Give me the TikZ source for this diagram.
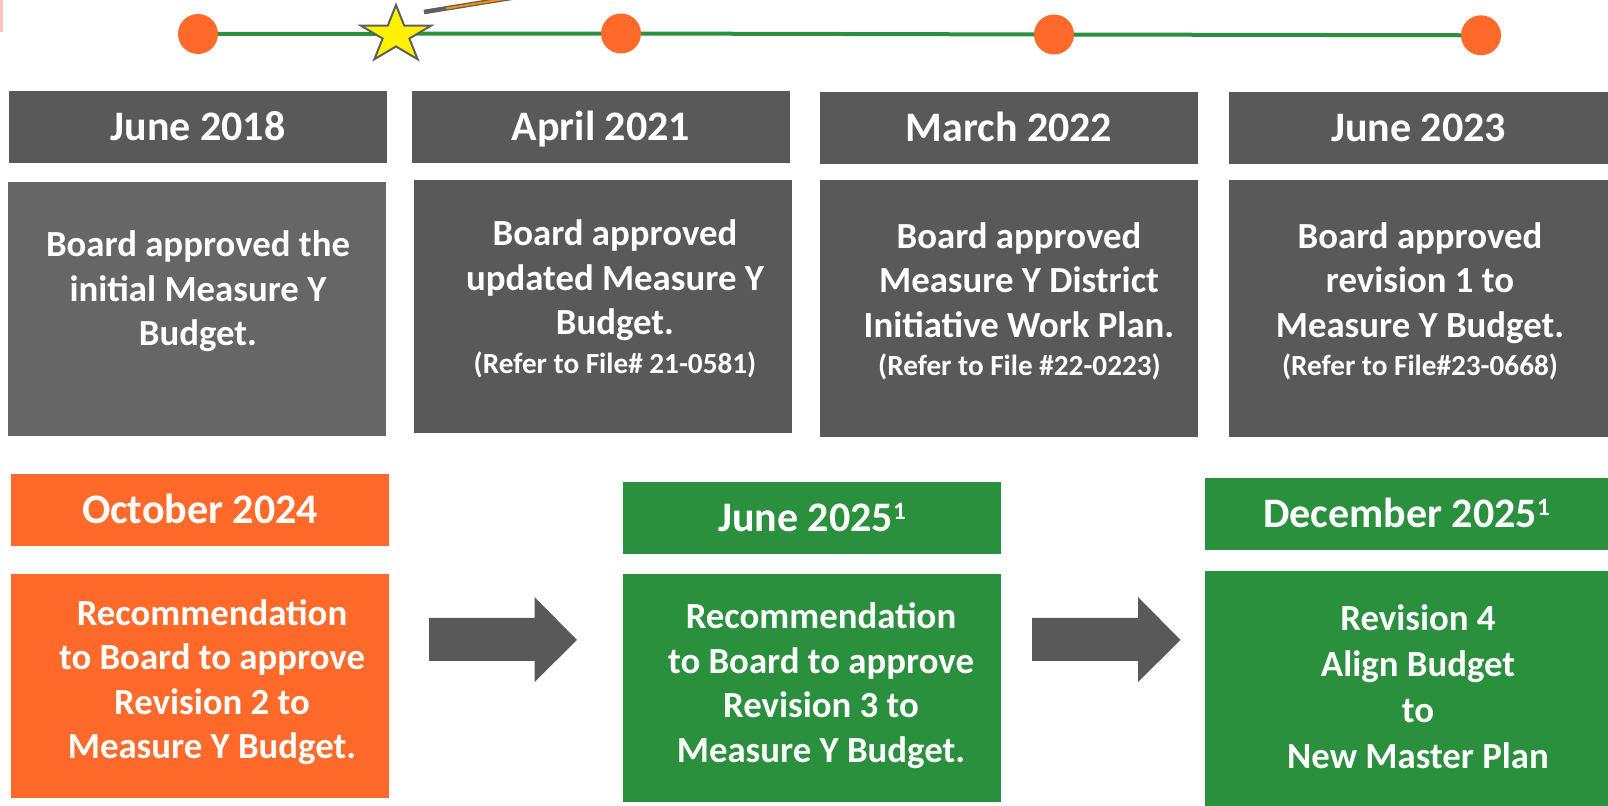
\documentclass[tikz,border=0pt]{standalone}
\usepackage{fontspec}
\newfontfamily\carl{Carlito}
\newcommand\hdrfont{\carl\bfseries\fontsize{21}{24}\selectfont}
\newcommand\bodyfont{\carl\bfseries\fontsize{18.4}{22.2}\selectfont}
\newcommand\smfont{\carl\bfseries\fontsize{14.6}{16}\selectfont}
\newcommand\supone{\raisebox{6pt}{\carl\bfseries\fontsize{12.5}{12.5}\selectfont 1}}
\definecolor{boxgray}{HTML}{595959}
\definecolor{boxgraylt}{HTML}{666666}
\definecolor{orng}{HTML}{FF6A2B}
\definecolor{grn}{HTML}{2A903D}
\definecolor{stargray}{HTML}{5F5F5F}
\definecolor{arrowgray}{HTML}{595959}
\tikzset{
  hdr/.style={rectangle, inner sep=0pt, outer sep=0pt, minimum width=189pt, minimum height=36pt,
    text=white, font=\hdrfont, text height=13.5pt, text depth=0pt},
  bodybox/.style={rectangle, inner sep=0pt, outer sep=0pt, minimum width=189pt},
  bt/.style={text=white, align=center, inner sep=0pt, outer sep=0pt, anchor=north, font=\bodyfont},
  st/.style={text=white, inner sep=0pt, outer sep=0pt, anchor=base, font=\smfont},
  dot/.style={circle, fill=orng, minimum size=20pt, inner sep=0pt, outer sep=0pt},
  tline/.style={draw=grn, line width=2pt},
}
\begin{document}
\begin{tikzpicture}[x=0.5pt,y=-0.5pt]
\path[use as bounding box, fill=white] (0,0) rectangle (1608,806);
\clip (0,0) rectangle (1608,806);
% faint mark at the left edge
\fill[red!70!white, opacity=0.35] (0,0) rectangle (3,32);
% callout line at top
\draw[stargray, line width=2.3pt] (424,12) -- (560,-10);
\draw[orange!90!yellow, line width=1pt] (446,8.5) -- (560,-10);
% timeline
\node[dot] (c1) at (198,34) {};
\node[dot] (c2) at (621,33.5) {};
\node[dot] (c3) at (1054,34.5) {};
\node[dot] (c4) at (1481,35.3) {};
\draw[tline] (c1) -- (c2);
\draw[tline] (c2) -- (c3);
\draw[tline] (c3) -- (c4);
% star
\begin{scope}[shift={(396,35)}]
\draw[fill=yellow, draw=stargray, line width=1pt, line join=miter, x=18.4pt, y=15pt]
  (90:1) -- (126:0.382) -- (162:1) -- (198:0.382) -- (234:1) -- (270:0.382)
  -- (306:1) -- (342:0.382) -- (18:1) -- (54:0.382) -- cycle;
\end{scope}
% row 1 headers
\node[hdr, fill=boxgray] (h1) at (198,127) {June 2018};
\node[hdr, fill=boxgray] (h2) at (601,127) {April 2021};
\node[hdr, fill=boxgray] (h3) at (1009,128) {March 2022};
\node[hdr, fill=boxgray, minimum width=189.5pt] (h4) at (1418.5,128) {June 2023};
% row 1 bodies
\node[bodybox, fill=boxgraylt, minimum height=127pt] (b1) at (197,309) {};
\node[bodybox, fill=boxgray, minimum height=126.5pt] (b2) at (602.5,306.5) {};
\node[bodybox, fill=boxgray, minimum height=128.5pt] (b3) at (1009,308.5) {};
\node[bodybox, fill=boxgray, minimum height=128.5pt, minimum width=189.5pt] (b4) at (1418.5,308.5) {};
\node[bt] (t1) at (198,227) {\rule{0pt}{15pt}Board approved the\\initial Measure Y\\Budget.};
\node[bt] (t2) at (615,216) {\rule{0pt}{15pt}Board approved\\updated Measure Y\\Budget.};
\node[st] (s2) at (615,374) {(Refer to File\# 21-0581)};
\node[bt] (t3) at (1019,218.5) {\rule{0pt}{15pt}Board approved\\Measure Y District\\Initiative Work Plan.};
\node[st] (s3) at (1019.5,375.5) {(Refer to File \#22-0223)};
\node[bt] (t4) at (1420,218.5) {\rule{0pt}{15pt}Board approved\\revision 1 to\\Measure Y Budget.};
\node[st] (s4) at (1420,375.5) {(Refer to File\#23-0668)};
% row 2
\node[hdr, fill=orng] (oh) at (200,510) {October 2024};
\node[bodybox, fill=orng, minimum height=112pt] (ob) at (200,686) {};
\node[bt] (to) at (212,595.5) {\rule{0pt}{15pt}Recommendation\\to Board to approve\\Revision 2 to\\Measure Y Budget.};
\node[hdr, fill=grn] (gh1) at (812,518) {June 2025\supone};
\node[bodybox, fill=grn, minimum height=114pt] (gb1) at (812,688) {};
\node[bt] (tg1) at (821,599) {\rule{0pt}{15pt}Recommendation\\to Board to approve\\Revision 3 to\\Measure Y Budget.};
\node[hdr, fill=grn, minimum width=201.5pt] (gh2) at (1406.5,514) {December 2025\supone};
\node[bodybox, fill=grn, minimum height=117.5pt, minimum width=201.5pt] (gb2) at (1406.5,688.5) {};
\node[bt, font={\carl\bfseries\fontsize{18.4}{22.85}\selectfont}] (tg2) at (1418,601) {\rule{0pt}{15pt}Revision 4\\Align Budget\\to\\New Master Plan};
% block arrows
\fill[arrowgray] (429,618) -- (534.5,618) -- (534.5,597) -- (577,640) -- (534.5,682) -- (534.5,661) -- (429,661) -- cycle;
\fill[arrowgray] (1032,618) -- (1138,618) -- (1138,597) -- (1180.5,640) -- (1138,682) -- (1138,661) -- (1032,661) -- cycle;
\end{tikzpicture}
\end{document}
